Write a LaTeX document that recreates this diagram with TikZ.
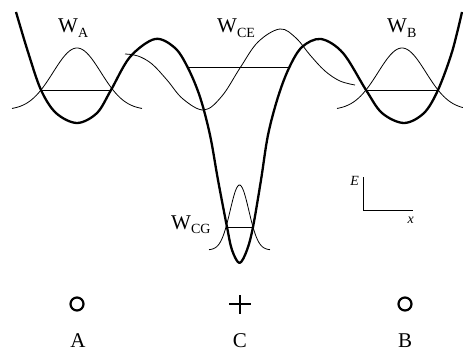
\documentclass[tikz,border=0pt]{standalone}
\usepackage{fontspec}
\setmainfont{Liberation Serif}
\usepackage{tikz}

\tikzset{
  potential/.style={line width=2.3pt, line join=round},
  wave/.style={line width=0.8pt},
  level/.style={line width=1pt},
  lbl/.style={inner sep=0pt, font=\fontsize{21}{21}\selectfont},
  axislbl/.style={inner sep=0pt, font=\fontsize{14}{14}\selectfont\itshape},
  site/.style={circle, draw, line width=2.2pt, minimum size=13pt, inner sep=0pt},
}
\newcommand{\wlabel}[1]{W\raisebox{-0.45ex}{\fontsize{14}{14}\selectfont #1}}

\begin{document}
\begin{tikzpicture}[x=1pt, y=-1pt]
                \useasboundingbox (0,0) rectangle (463,353);

                % Potential
                \draw[potential] plot[smooth, tension=0.55] coordinates {
                  (16,12) (28,52) (41,90) (56,113) (77,123) (97,113) (111,90)
                  (130,57) (155,39) (175,48) (188,68) (200,97) (210,135)
                  (218,180) (227,227) (232,250) (239.5,263) (247,250) (253,227)
                  (261,180) (268,135) (278,97) (289,68) (302,47) (321,39)
                  (343,53) (366,90) (382,113) (404,123) (424,113) (438,90)
                  (452,52) (462,12)};

                % Wave functions
                \draw[wave, domain=12:142, samples=60] plot (\x, {110-62*exp(-((\x-77)^2)/1146)});
                \draw[wave, domain=337:463, samples=60] plot (\x, {110-62*exp(-((\x-402)^2)/1146)});
                \draw[wave, domain=209:270, samples=50] plot (\x, {250-65*exp(-((\x-239.5)^2)/175)});
                \draw[wave] plot[smooth, tension=0.6] coordinates {
                  (125,54) (138,56) (152,64) (167,80) (183,99) (204,110)
                  (222,96) (240,68) (258,42) (280,29) (296,38) (310,55)
                  (325,71) (340,81) (355,85)};

                % Levels
                \coordinate (a1) at (41,90);
                \coordinate (a2) at (111,90);
                \coordinate (ce1) at (188,68);
                \coordinate (ce2) at (289,68);
                \coordinate (cg1) at (227,227);
                \coordinate (cg2) at (253,227);
                \coordinate (b1) at (366,90);
                \coordinate (b2) at (438,90);
                \draw[level] (a1)--(a2);
                \draw[level] (ce1)--(ce2);
                \draw[level] (cg1)--(cg2);
                \draw[level] (b1)--(b2);

                % Labels
                \node[lbl, anchor=base west] (wA) at (58,33) {\wlabel{A}};
                \node[lbl, anchor=base west] (wCE) at (217,33) {\wlabel{CE}};
                \node[lbl, anchor=base west] (wB) at (387,33) {\wlabel{B}};
                \node[lbl, anchor=base west] (wCG) at (171,229) {\wlabel{CG}};

                % Axes
                \coordinate (origin) at (363,210);
                \coordinate (etop) at (363,177);
                \coordinate (xend) at (413,210);
                \draw[level] (etop)--(origin)--(xend);
                \node[axislbl, anchor=base east] (E) at (359,185) {E};
                \node[axislbl, anchor=base east] (x) at (414,223) {x};

                % Sites
                \node[site] (A) at (77,304) {};
                \node (C) at (240,304) {};
                \node[site] (B) at (405,304) {};
                \draw[line width=2.2pt] ([xshift=-11pt]C.center)--([xshift=11pt]C.center);
                \draw[line width=2.2pt] ([yshift=9pt]C.center)--([yshift=-10pt]C.center);
                \node[lbl, anchor=base] (lA) at (78,347) {A};
                \node[lbl, anchor=base] (lC) at (240,347) {C};
                \node[lbl, anchor=base] (lB) at (405,347) {B};
            \end{tikzpicture}
\end{document}
